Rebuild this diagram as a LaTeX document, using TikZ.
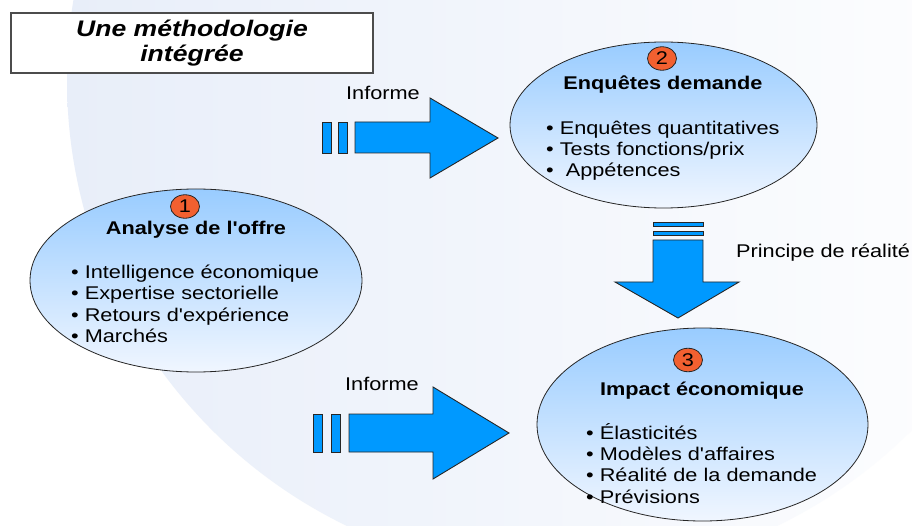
\documentclass[tikz,border=0pt]{standalone}
\usepackage{fontspec}
\setmainfont{Liberation Sans}[FakeStretch=1.18,Ligatures=TeXOff]
\usetikzlibrary{shapes.geometric}

\definecolor{bleuFleche}{RGB}{0,153,255}
\definecolor{bleuHaut}{RGB}{153,204,255}
\definecolor{bleuBas}{RGB}{240,246,255}
\definecolor{orangePastille}{RGB}{242,96,48}
\definecolor{fondBleu}{RGB}{232,238,249}

\tikzset{
  ovale/.style={ellipse,draw=black!85,line width=0.8pt,top color=bleuHaut,bottom color=bleuBas,inner sep=0pt},
  pastille/.style={ellipse,draw=black!85,line width=0.8pt,fill=orangePastille,minimum width=29pt,minimum height=23.5pt,
    inner sep=0pt,font=\fontsize{18.4}{21.3}\selectfont},
  titre/.style={anchor=base,inner sep=0pt,font=\fontsize{18.4}{21.3}\selectfont\bfseries},
  puce/.style={anchor=base west,inner sep=0pt,font=\fontsize{18.4}{21.3}\selectfont},
  fleche/.style={draw=black!85,line width=0.9pt,fill=bleuFleche,line join=miter},
}

\begin{document}
\begin{tikzpicture}[x=1pt,y=-1pt]
  \useasboundingbox (0,0) rectangle (912,526);
  \clip (0,0) rectangle (912,526);
  % fond
  \fill[white] (0,0) rectangle (912,526);
  \shade[left color=fondBleu,right color=white] (562,80) circle [radius=495];

  % cadre du titre
  \node[draw=black!70,line width=1.2pt,fill=white,minimum width=362pt,minimum height=60pt,
    inner sep=0pt,align=center,font=\fontsize{22.5}{24.8}\selectfont\bfseries\itshape]
    (cadre) at (192,43) {Une méthodologie\\intégrée};

  % les trois ovales
  \node[ovale,minimum width=332pt,minimum height=183pt] (offre) at (196,280.5) {};
  \node[ovale,minimum width=307pt,minimum height=166pt] (demande) at (663.5,125) {};
  \node[ovale,minimum width=331pt,minimum height=193pt] (impact) at (702.5,424.5) {};

  \node[pastille] (p1) at (185,206.5) {1};
  \node[pastille] (p2) at (662,58.5) {2};
  \node[pastille] (p3) at (688,360) {3};

  \node[titre] (t1) at (196,234.3) {Analyse de l'offre};
  \node[titre] (t2) at (663,90) {Enquêtes demande};
  \node[titre] (t3) at (702,395) {Impact économique};

  \foreach \t [count=\i] in {Intelligence économique,Expertise sectorielle,Retours d'expérience,Marchés}
    \node[puce] (o\i) at (71,257.2+21.3*\i) {• \t};
  \foreach \t [count=\i] in {Enquêtes quantitatives,Tests fonctions/prix,\ Appétences}
    \node[puce] (d\i) at (546,113.1+21.2*\i) {• \t};
  \foreach \t [count=\i] in {Élasticités,Modèles d'affaires,Réalité de la demande,Prévisions}
    \node[puce] (e\i) at (586,418+21.3*\i) {• \t};

  % fleche offre -> demande
  \foreach \x in {322,338}
    \draw[fleche] (\x,122) rectangle ++(9,31);
  \draw[fleche] (355,122) -- (430,122) -- (430,98) -- (498,138) -- (430,178) -- (430,153) -- (355,153) -- cycle;
  \node[puce] (inf1) at (346,99.3) {Informe};

  % fleche demande -> impact
  \foreach \y in {222,231}
    \draw[fleche] (653,\y) rectangle ++(50,4);
  \draw[fleche] (653,240) -- (703,240) -- (703,282) -- (739,282) -- (678,318) -- (615,282) -- (653,282) -- cycle;
  \node[puce] (real) at (736,257.3) {Principe de réalité};

  % fleche offre -> impact
  \foreach \x in {313,331}
    \draw[fleche] (\x,414) rectangle ++(9,38);
  \draw[fleche] (349,414) -- (433,414) -- (433,387) -- (509,433) -- (433,479) -- (433,452) -- (349,452) -- cycle;
  \node[puce] (inf2) at (345,390.7) {Informe};
\end{tikzpicture}
\end{document}
